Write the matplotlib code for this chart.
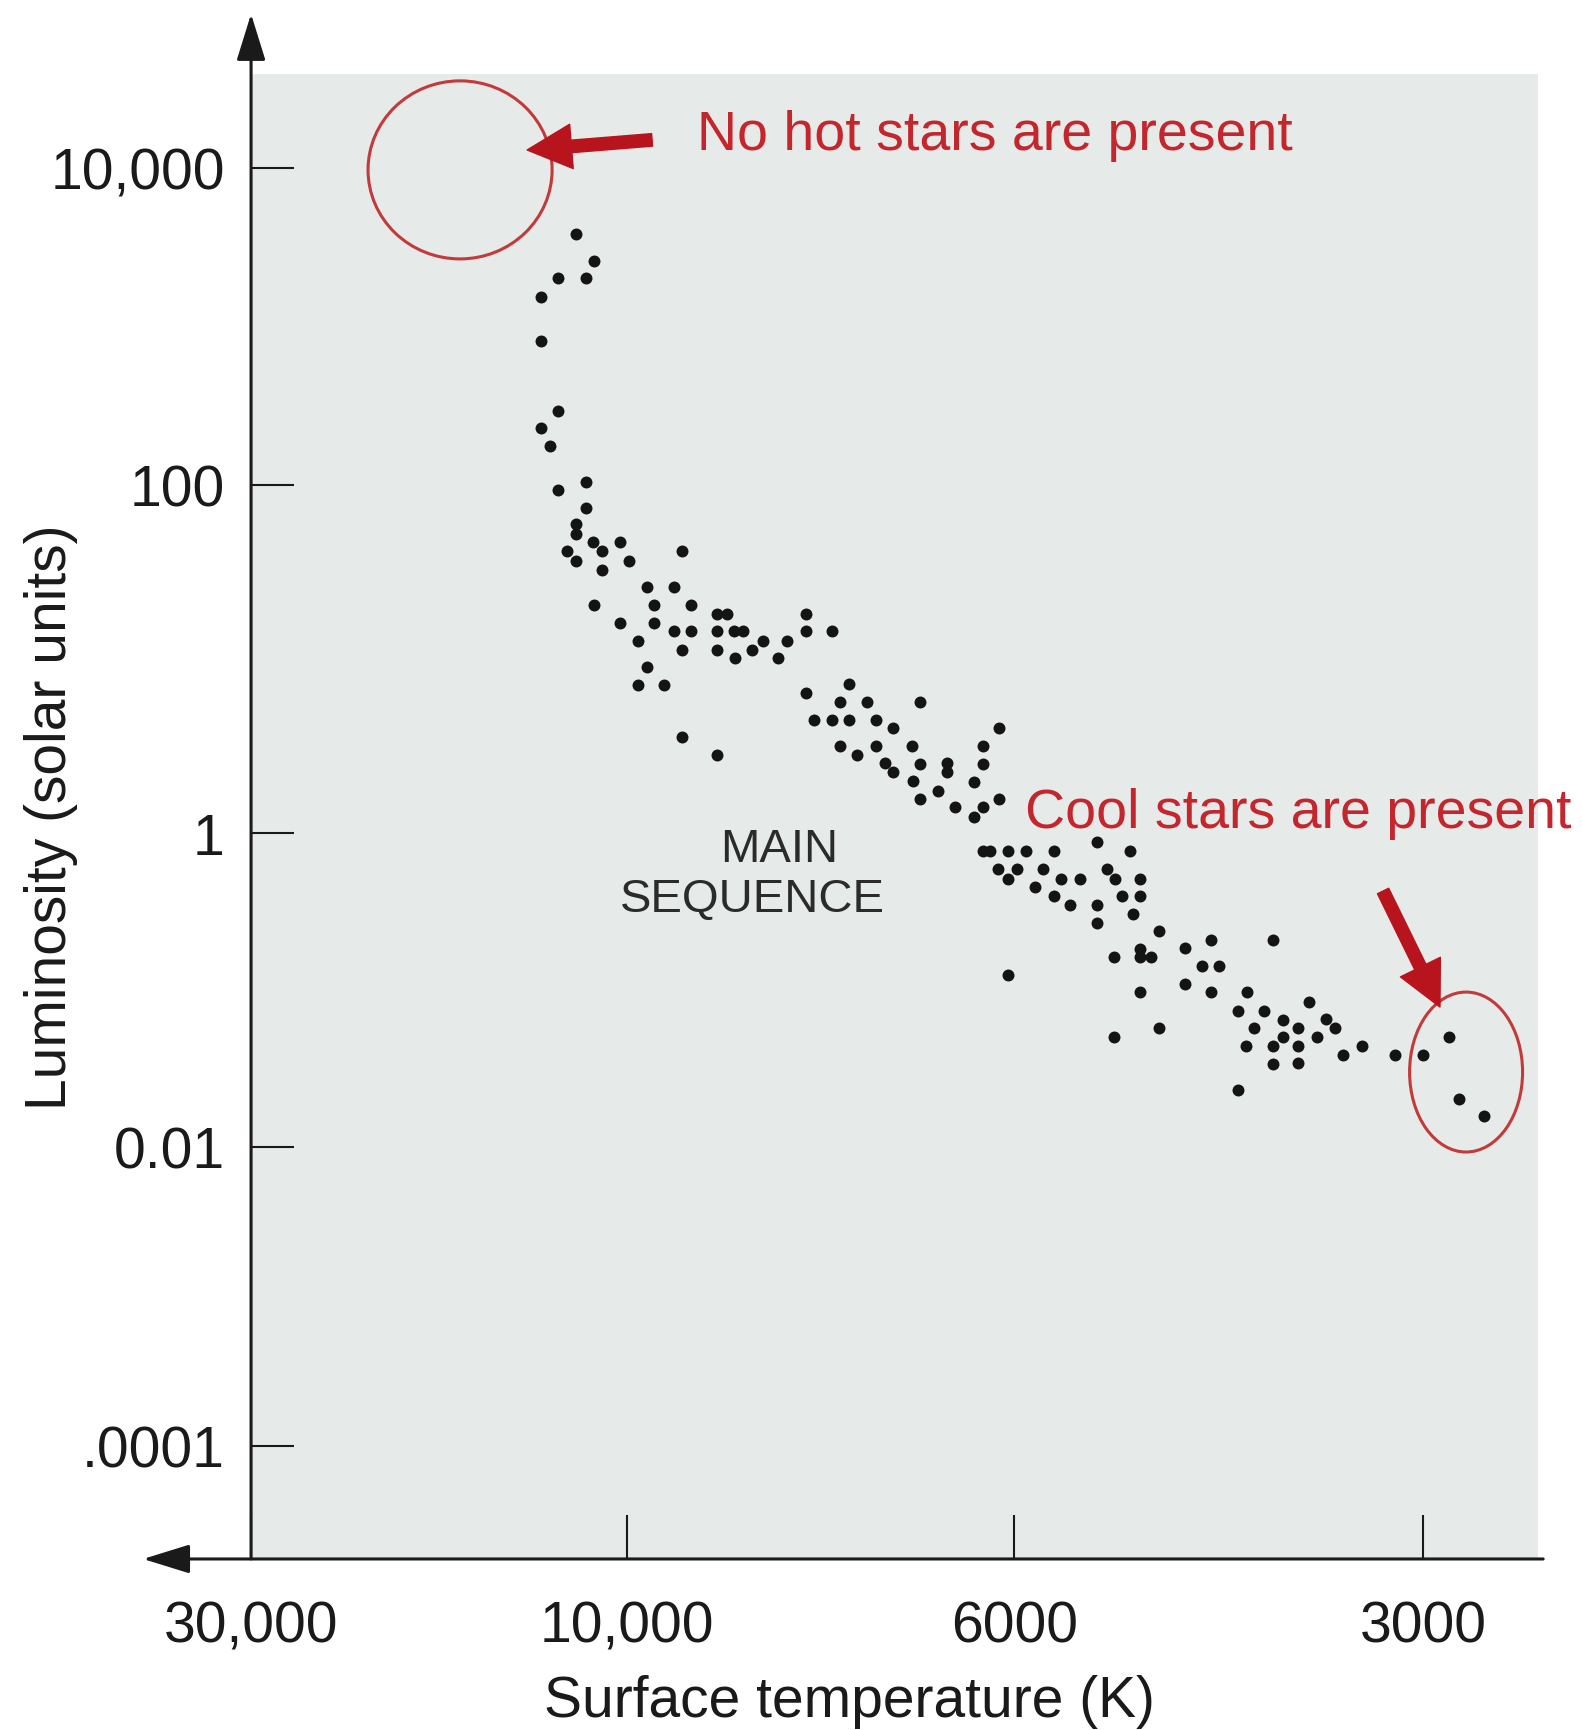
import numpy as np
import matplotlib
matplotlib.use('Agg')
import matplotlib.pyplot as plt
from matplotlib.patches import Ellipse
from matplotlib.ticker import FixedLocator, FixedFormatter, NullLocator

plt.rcParams['font.family'] = ['Liberation Sans', 'DejaVu Sans']

# star readings: surface temperature (K) and luminosity (solar units)
temperature = [
    12710, 11760, 13670, 12180, 14570, 14570, 13670, 14570, 14100, 12180,
    13670, 12180, 12710, 12710, 11810, 11330, 13190, 12710, 10370, 9980,
    11330, 9430, 9790, 9520, 11760, 9720, 9340, 10370, 9720, 9520,
    9340, 9890, 9430, 9790, 9890, 9620, 9070, 8970, 9070, 8900,
    8800, 9070, 8890, 8600, 8710, 8350, 8440, 8150, 8150, 7880,
    9430, 9070, 7710, 8150, 7800, 7520, 6970, 8070, 7880, 7710,
    7430, 7250, 7800, 7620, 7430, 7060, 7340, 7250, 6970, 6690,
    6690, 7050, 6970, 6790, 6420, 6320, 6320, 6160, 6160, 6610,
    6420, 6320, 6320, 6250, 6060, 5910, 5710, 5390, 5150, 6170,
    5980, 6060, 5790, 5660, 5520, 5850, 5710, 5590, 5390, 5390,
    5320, 5260, 5210, 5130, 5080, 5080, 4940, 4560, 4100, 5270,
    5080, 5080, 5000, 4750, 4620, 4500, 4750, 5080, 4560, 4290,
    6060, 5270, 4940, 4360, 4170, 3840, 4030, 4240, 3920, 3710,
    3650, 3780, 4030, 4300, 4100, 3920, 4100, 3920, 4360, 3590,
    3450, 3210, 3000, 2810, 2740, 2550,
]
luminosity = [
    3840, 2590, 2020, 2020, 1530, 811, 293, 229, 176, 104,
    93.6, 73.8, 59.7, 52.3, 47.0, 41.8, 41.8, 36.6, 47.0, 36.6,
    32.4, 41.8, 25.9, 25.9, 20.4, 20.4, 20.4, 16.1, 16.1, 14.5,
    14.5, 12.7, 11.3, 9.0, 7.1, 7.1, 18.2, 18.2, 14.5, 14.5,
    14.5, 11.3, 10.1, 12.7, 11.3, 12.7, 10.1, 18.2, 14.5, 14.5,
    3.56, 2.81, 7.18, 6.38, 5.66, 5.66, 5.66, 4.46, 4.46, 4.46,
    4.46, 4.01, 3.16, 2.81, 3.16, 3.16, 2.52, 2.24, 2.49, 2.52,
    2.24, 1.99, 1.57, 1.74, 1.96, 3.16, 2.49, 4.01, 1.57, 1.41,
    1.24, 1.41, 0.768, 0.768, 0.768, 0.768, 0.768, 0.877, 0.768, 0.590,
    0.590, 0.509, 0.590, 0.509, 0.509, 0.453, 0.397, 0.348, 0.348, 0.267,
    0.590, 0.509, 0.397, 0.305, 0.509, 0.397, 0.238, 0.208, 0.208, 0.162,
    0.182, 0.162, 0.162, 0.185, 0.142, 0.142, 0.109, 0.0971, 0.0971, 0.0971,
    0.125, 0.0502, 0.0573, 0.0735, 0.0735, 0.0839, 0.0644, 0.0573, 0.0573, 0.0653,
    0.0573, 0.0502, 0.0502, 0.0440, 0.0440, 0.0440, 0.0338, 0.0343, 0.0231, 0.0385,
    0.0440, 0.0385, 0.0385, 0.0502, 0.0202, 0.0157,
]

temp_ticks = [30000, 10000, 6000, 3000]
temp_labels = ['30,000', '10,000', '6000', '3000']
lum_ticks = [1e4, 1e2, 1, 1e-2, 1e-4]
lum_labels = ['10,000', '100', '1', '0.01', '.0001']

# the printed diagram spaces its tick values unevenly, so both axes
# use a piecewise scale through these anchor points
temp_anchor = [2000, 3000, 6000, 10000, 30000, 60000]
temp_scale = [-1559, -1423, -1014, -627, -251, 313]
lum_anchor = [-6, -4, -2, 0, 2, 4, 6]
lum_scale = [-1746, -1447, -1148, -834, -486, -169, 148]


def temp_fwd(t):
    return np.interp(np.asarray(t, dtype=float), temp_anchor, temp_scale)


def temp_inv(u):
    return np.interp(np.asarray(u, dtype=float), temp_scale, temp_anchor)


def lum_fwd(v):
    v = np.maximum(np.asarray(v, dtype=float), 1e-300)
    return np.interp(np.log10(v), lum_anchor, lum_scale)


def lum_inv(u):
    return 10 ** np.interp(np.asarray(u, dtype=float), lum_scale, lum_anchor)


red = '#c4262e'
ink = '#1a1a1a'

fig = plt.figure(figsize=(15.82, 17.31), dpi=100)
ax = fig.add_axes([0.1587, 0.0988, 0.8135, 0.8579])
ax.set_facecolor('#e6eae9')

ax.set_xscale('function', functions=(temp_fwd, temp_inv))
ax.set_yscale('function', functions=(lum_fwd, lum_inv))
# hot stars on the left
ax.set_xlim(30000, 2156)
ax.set_ylim(1.75e-5, 39200)

ax.plot(temperature, luminosity, 'o', color='#141414', markersize=8.6,
        markeredgewidth=0, zorder=4)

ax.xaxis.set_major_locator(FixedLocator(temp_ticks))
ax.xaxis.set_major_formatter(FixedFormatter(temp_labels))
ax.xaxis.set_minor_locator(NullLocator())
ax.yaxis.set_major_locator(FixedLocator(lum_ticks))
ax.yaxis.set_major_formatter(FixedFormatter(lum_labels))
ax.yaxis.set_minor_locator(NullLocator())

for s in ax.spines.values():
    s.set_visible(False)

ax.tick_params(axis='x', direction='in', length=32, width=1.5, pad=29,
               labelsize=41, color=ink, labelcolor=ink)
ax.tick_params(axis='y', direction='in', length=31, width=1.5, pad=19,
               labelsize=41, color=ink, labelcolor=ink)

# axis lines with arrow heads
axis_arrow = dict(arrowstyle='-|>,head_length=2.9,head_width=0.9', color=ink,
                  lw=2.2, shrinkA=0, shrinkB=0, mutation_scale=10)
ax.annotate('', xy=(0, 1.0404), xytext=(0, 0), xycoords='axes fraction',
            arrowprops=axis_arrow, annotation_clip=False)
ax.annotate('', xy=(-0.0839, 0), xytext=(1.004, 0), xycoords='axes fraction',
            arrowprops=axis_arrow, annotation_clip=False)

ax.set_xlabel('Surface temperature (K)', fontsize=41, color=ink)
ax.xaxis.set_label_coords(0.4646, -0.0774)
ax.set_ylabel('Luminosity (solar units)', fontsize=41, color=ink)
ax.yaxis.set_label_coords(-0.1344, 0.5)

# main sequence label
ax.text(0.4103, 0.470, 'MAIN', transform=ax.transAxes, fontsize=34,
        color='#2b2b2b', ha='center', va='baseline')
ax.text(0.3893, 0.4364, 'SEQUENCE', transform=ax.transAxes, fontsize=34,
        color='#2b2b2b', ha='center', va='baseline')

# red hand-drawn notes
ax.add_patch(Ellipse((0.1624, 0.9354), 0.1430, 0.1199, transform=ax.transAxes,
                     fill=False, edgecolor='#c23a3a', lw=2.2, zorder=3))
ax.add_patch(Ellipse((0.9441, 0.3279), 0.0878, 0.1077, transform=ax.transAxes,
                     fill=False, edgecolor='#c23a3a', lw=2.2, zorder=3))

red_arrow = dict(arrowstyle='simple,head_length=3.2,head_width=3.2,tail_width=0.9',
                 color='#b8141d', shrinkA=0, shrinkB=0, mutation_scale=10)
ax.annotate('', xy=(0.2145, 0.9488), xytext=(0.3116, 0.9556),
            xycoords='axes fraction', arrowprops=red_arrow)
ax.annotate('', xy=(0.9238, 0.3717), xytext=(0.8796, 0.4498),
            xycoords='axes fraction', arrowprops=red_arrow)

ax.text(0.3465, 0.9495, 'No hot stars are present', transform=ax.transAxes,
        fontsize=40, color=red, ha='left', va='baseline')
ax.text(0.6014, 0.4929, 'Cool stars are present', transform=ax.transAxes,
        fontsize=40, color=red, ha='left', va='baseline', clip_on=False)

fig.savefig('out.png', dpi=100)
